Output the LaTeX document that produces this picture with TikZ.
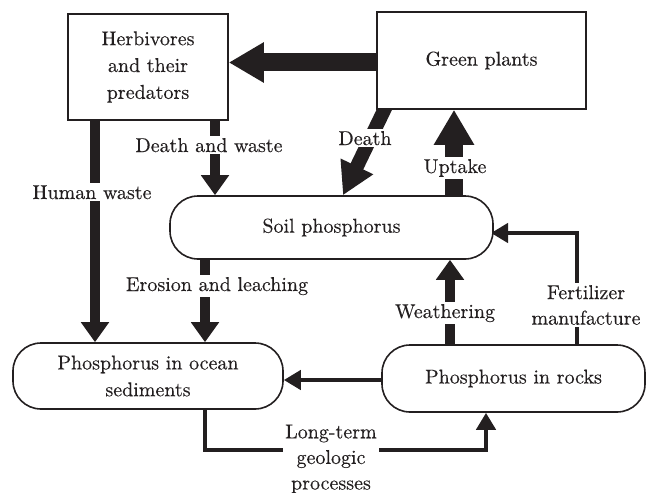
\documentclass[tikz,border=0pt]{standalone}
\usepackage{fontspec}
\setmainfont{Latin Modern Roman}[FakeBold=0.3]
\usetikzlibrary{arrows.meta}
\definecolor{ink}{HTML}{231F20}
\pgfdeclarelayer{flows}
\pgfsetlayers{flows,main}
\begin{document}
\begin{tikzpicture}[x=0.5pt,y=-0.5pt,
  every node/.style={text=ink, font=\fontsize{10}{12.8}\selectfont},
  box/.style={draw=ink, line width=0.8pt, fill=white, align=center, inner sep=0pt},
  pool/.style={box, rounded corners=14pt},
  lab/.style={fill=white, inner sep=1pt, align=center},
  bigflow/.style={draw=ink, line width=9pt, -{Triangle[width=19pt,length=17.5pt]}},
  midflow/.style={draw=ink, line width=7pt, -{Triangle[width=17pt,length=16pt]}},
  flow/.style={draw=ink, line width=5pt, -{Triangle[width=13.5pt,length=10pt]}},
  thinflow/.style={draw=ink, line width=2.3pt, line join=miter, -{Triangle[width=9.5pt,length=8.5pt]}}]
\useasboundingbox (0,0) rectangle (647,492);

% compartments
\node[box, minimum width=80pt, minimum height=53pt] (herb) at (148,67)
  {Herbivores\\[0.6pt]and their\\[0.6pt]predators};
\node[box, minimum width=104.5pt, minimum height=48.5pt] (green) at (481.5,60.5)
  {\raisebox{-1.2pt}{Green plants}};
\node[pool, minimum width=161.5pt, minimum height=31.5pt] (soil) at (331.5,227.5)
  {\raisebox{-1.5pt}{Soil phosphorus}};
\node[pool, minimum width=135pt, minimum height=33pt] (ocean) at (148,376)
  {Phosphorus in ocean\\[0.6pt]sediments};
\node[pool, minimum width=131.5pt, minimum height=33.5pt] (rocks) at (513.5,378.5)
  {Phosphorus in rocks};

% flows
\begin{pgfonlayer}{flows}
\draw[bigflow] (green.west |- 0,62.5) -- (herb.east |- 0,62.5);
\draw[midflow] (389,100) -- (343,0 |- soil.north);
\draw[bigflow] (454,0 |- soil.north) -- (454,0 |- green.south);
\draw[flow] (215,0 |- herb.south) -- (215,0 |- soil.north);
\draw[flow] (95,0 |- herb.south) -- (95,0 |- ocean.north);
\draw[flow] (205,0 |- soil.south) -- (205,0 |- ocean.north);
\draw[flow] (450,0 |- rocks.north) -- (450,0 |- soil.south);
\draw[thinflow] (577,0 |- rocks.north) -- (577,233) -- (491,233);
\draw[thinflow] (rocks.west |- 0,380) -- (ocean.east |- 0,380);
\draw[thinflow] (205,0 |- ocean.south) -- (205,450) -- (486,450) -- (486,0 |- rocks.south);
\end{pgfonlayer}

% flow labels
\node[lab, anchor=base] (l1) at (209,152) {Death and waste};
\node[lab, anchor=base] (l2) at (92,199) {Human waste};
\node[lab, anchor=base] (l3) at (365,145) {Death};
\node[lab, anchor=base] (l4) at (455,173) {Uptake};
\node[lab, anchor=base] (l5) at (217,291) {Erosion and leaching};
\node[lab, anchor=base] (l6) at (445,318) {Weathering};
\node[lab] (l7) at (586,305) {Fertilizer\\manufacture};
\node[lab] (l8) at (331,459) {Long-term\\geologic\\processes};
\end{tikzpicture}
\end{document}
